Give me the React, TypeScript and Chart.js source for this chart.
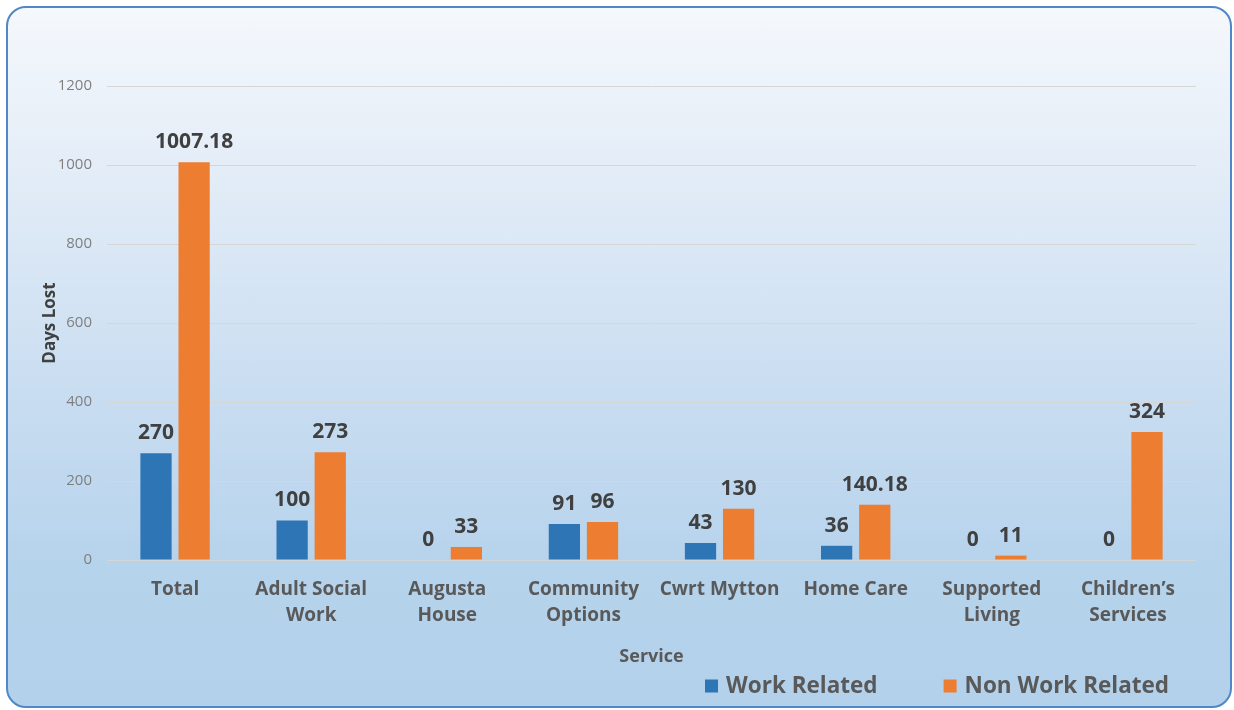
import React, { useEffect, useRef } from "react";
import { Chart, registerables } from "chart.js";

Chart.register(...registerables);

const categories: (string | string[])[] = [
  "Total",
  ["Adult Social", "Work"],
  ["Augusta", "House"],
  ["Community", "Options"],
  "Cwrt Mytton",
  "Home Care",
  ["Supported", "Living"],
  ["Children\u2019s", "Services"],
];
const workRelated = [270, 100, 0, 91, 43, 36, 0, 0];
const nonWorkRelated = [1007.18, 273, 33, 96, 130, 140.18, 11, 324];
const yTicks = [0, 200, 400, 600, 800, 1000, 1200];
const seriesNames = ["Work Related", "Non Work Related"];
const seriesColors = ["#2e75b6", "#ed7d31"];

const FONT = "'Open Sans', 'Liberation Sans', sans-serif";

const dataLabelPlugin = {
  id: "dataLabels",
  afterDatasetsDraw(chart: any) {
    const ctx = chart.ctx;
    ctx.save();
    ctx.font = `bold 21px ${FONT}`;
    ctx.fillStyle = "#404040";
    ctx.textAlign = "center";
    ctx.textBaseline = "middle";
    chart.data.datasets.forEach((ds: any, i: number) => {
      const meta = chart.getDatasetMeta(i);
      meta.data.forEach((el: any, j: number) => {
        ctx.fillText(String(ds.data[j]), el.x, el.y - 20);
      });
    });
    ctx.restore();
  },
};

const legendPlugin = {
  id: "customLegend",
  afterDraw(chart: any) {
    const ctx = chart.ctx;
    const area = chart.chartArea;
    ctx.save();
    ctx.font = `bold 22.5px ${FONT}`;
    ctx.textBaseline = "middle";
    ctx.textAlign = "left";
    const box = 13;
    const gapBoxText = 8;
    const gapItems = 66;
    const items = chart.data.datasets.map((ds: any) => ({
      label: ds.label,
      color: ds.backgroundColor,
      w: ctx.measureText(ds.label).width,
    }));
    let x = area.left + 598;
    const cy = 686;
    items.forEach((it: any) => {
      ctx.fillStyle = it.color;
      ctx.fillRect(x, cy - box / 2, box, box);
      x += box + gapBoxText;
      ctx.fillStyle = "#595959";
      ctx.fillText(it.label, x, cy + 1);
      x += it.w + gapItems;
    });
    ctx.restore();
  },
};

export default function App() {
  const ref = useRef<HTMLCanvasElement>(null);

  useEffect(() => {
    if (!ref.current) return;
    const chart = new Chart(ref.current, {
      type: "bar",
      data: {
        labels: categories,
        datasets: [
          {
            label: seriesNames[0],
            data: workRelated,
            backgroundColor: seriesColors[0],
            categoryPercentage: 0.56,
            barPercentage: 0.82,
          },
          {
            label: seriesNames[1],
            data: nonWorkRelated,
            backgroundColor: seriesColors[1],
            categoryPercentage: 0.56,
            barPercentage: 0.82,
          },
        ],
      },
      options: {
        responsive: false,
        animation: false,
        layout: { padding: { left: 0, top: 86, right: 38, bottom: 0 } },
        plugins: {
          legend: { display: false },
          tooltip: { enabled: false },
        },
        scales: {
          x: {
            grid: { display: false, drawTicks: false },
            border: { display: false },
            ticks: {
              color: "#595959",
              padding: 16,
              font: { family: FONT, size: 19, weight: "bold", lineHeight: 1.38 },
              maxRotation: 0,
              autoSkip: false,
            },
            title: {
              display: true,
              text: "Service",
              color: "#595959",
              font: { family: FONT, size: 18, weight: "bold", lineHeight: 1.2 },
              padding: { top: 0, bottom: 42 },
            },
            afterFit(scale: any) {
              scale.height = 150;
            },
          },
          y: {
            min: 0,
            max: 1200,
            afterBuildTicks(scale: any) {
              scale.ticks = yTicks.map((v) => ({ value: v }));
            },
            grid: { color: "#d6d6d6", drawTicks: false, lineWidth: 1 },
            border: { display: false },
            ticks: {
              color: "#7f7f7f",
              padding: 15,
              font: { family: FONT, size: 15 },
              callback: (v: any) => String(v),
            },
            title: {
              display: true,
              text: "Days Lost",
              color: "#404040",
              font: { family: FONT, size: 17, weight: "bold", lineHeight: 1.2 },
              padding: { top: 40, bottom: 0 },
            },
            afterFit(scale: any) {
              scale.width = 107;
            },
          },
        },
      },
      plugins: [dataLabelPlugin, legendPlugin],
    });
    return () => chart.destroy();
  }, []);

  return (
    <div
      style={{
        position: "fixed",
        left: 0,
        top: 0,
        width: 1234,
        height: 710,
        background: "#ffffff",
        overflow: "hidden",
      }}
    >
      <div
        style={{
          position: "absolute",
          left: 6,
          top: 6,
          width: 1226,
          height: 702,
          boxSizing: "border-box",
          border: "2px solid #4f87c7",
          borderRadius: 20,
          background:
            "linear-gradient(to bottom, #f5f8fc 0%, #e2ecf7 25%, #c9ddf1 55%, #b6d3ec 80%, #b3d1eb 100%)",
        }}
      />
      <canvas
        ref={ref}
        width={1234}
        height={710}
        style={{ position: "absolute", left: 0, top: 0, width: 1234, height: 710 }}
      />
    </div>
  );
}
